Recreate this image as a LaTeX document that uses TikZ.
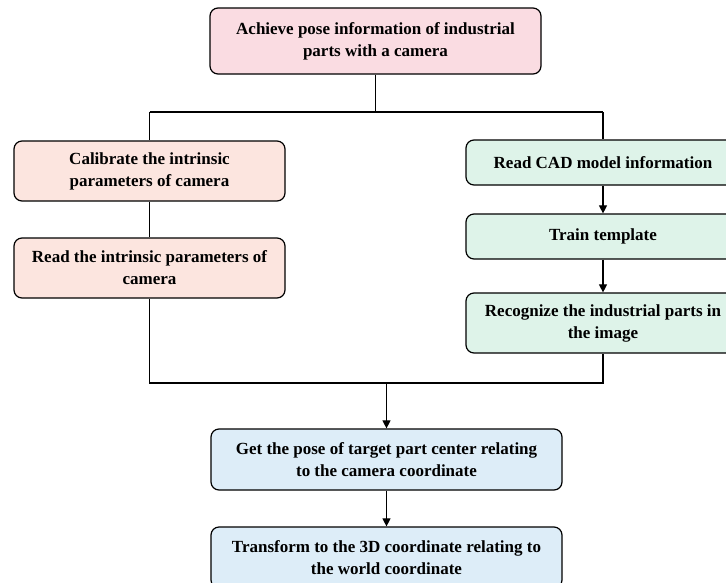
\documentclass[tikz,border=0pt]{standalone}
\usepackage{fontspec}
\setmainfont{Liberation Serif}
\usetikzlibrary{arrows.meta}

\definecolor{toppink}{RGB}{250,220,226}
\definecolor{leftrose}{RGB}{252,229,223}
\definecolor{rightmint}{RGB}{222,243,233}
\definecolor{bottomblue}{RGB}{221,237,248}

\tikzset{every picture/.style={line width=0.75pt}}
\tikzset{
  stepbox/.style={draw=black, line width=1.2pt, rounded corners=8pt, align=center,
    inner sep=0pt, font=\bfseries\fontsize{17}{22}\selectfont},
  flowline/.style={line width=1.1pt},
  flowarrow/.style={line width=1.1pt, -{Triangle[length=8pt,width=8pt]}}
}

\begin{document}
\begin{tikzpicture}[x=1pt,y=1pt,yscale=-1,xscale=1]
	\useasboundingbox (0,0) rectangle (726,582);

	% Text Node
	\node [stepbox, fill=toppink, minimum width=331, minimum height=66] (achieve) at (375.5,41) {Achieve pose information of industrial\\parts with a camera};

	% Text Node
	\node [stepbox, fill=leftrose, minimum width=271, minimum height=60] (calib) at (149.5,171) {Calibrate the intrinsic\\parameters of camera};
	% Text Node
	\node [stepbox, fill=leftrose, minimum width=271, minimum height=60] (readin) at (149.5,268) {Read the intrinsic parameters of\\camera};

	% Text Node
	\node [stepbox, fill=rightmint, minimum width=274, minimum height=45] (readcad) at (603,162.5) {Read CAD model information};
	% Text Node
	\node [stepbox, fill=rightmint, minimum width=274, minimum height=45] (train) at (603,236.5) {Train template};
	% Text Node
	\node [stepbox, fill=rightmint, minimum width=274, minimum height=60] (recog) at (603,323) {Recognize the industrial parts in\\the image};

	% Text Node
	\node [stepbox, fill=bottomblue, minimum width=351, minimum height=61] (getpose) at (386.5,459.5) {Get the pose of target part center relating\\to the camera coordinate};
	% Text Node
	\node [stepbox, fill=bottomblue, minimum width=351, minimum height=61] (transf) at (386.5,557.5) {Transform to the 3D coordinate relating to\\the world coordinate};

	%Straight Lines
	\coordinate (split) at (achieve.south |- 0,112);
	\coordinate (join) at (getpose.north |- 0,383);
	\draw [flowline] (achieve.south) -- (split);
	\draw [flowline] (calib.north |- split) -- (readcad.north |- split);
	\draw [flowline] (calib.north |- split) -- (calib.north);
	\draw [flowline] (readcad.north |- split) -- (readcad.north);
	\draw [flowline] (calib.south) -- (readin.north);
	\draw [flowarrow] (readcad.south) -- (train.north);
	\draw [flowarrow] (train.south) -- (recog.north);
	\draw [flowline] (readin.south) -- (readin.south |- join) -- (recog.south |- join) -- (recog.south);
	\draw [flowarrow] (join) -- (getpose.north);
	\draw [flowarrow] (getpose.south) -- (transf.north);

\end{tikzpicture}
\end{document}
